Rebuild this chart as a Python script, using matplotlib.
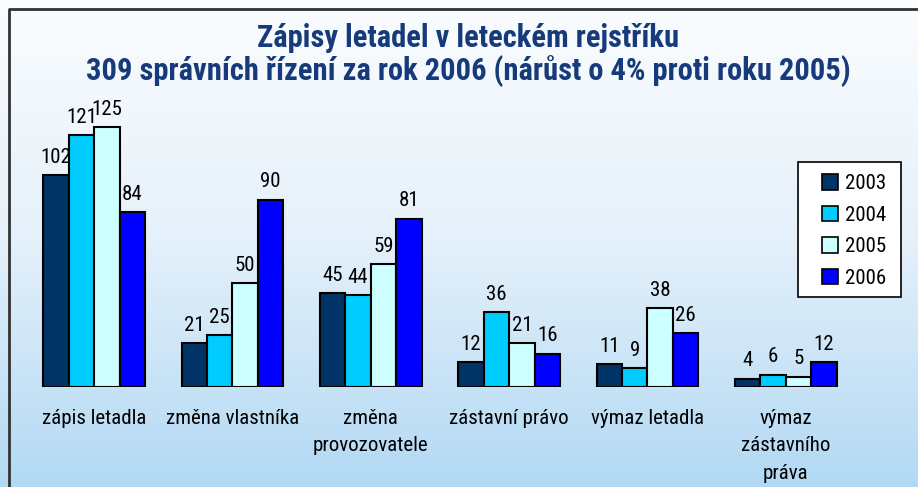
"""Zápisy letadel v leteckém rejstříku - grouped bar chart."""
import matplotlib
matplotlib.use('Agg')
import matplotlib.pyplot as plt
from matplotlib.patches import Patch, Rectangle
from matplotlib.lines import Line2D
from matplotlib.colors import LinearSegmentedColormap
import numpy as np

plt.rcParams['font.family'] = ['Roboto Condensed', 'DejaVu Sans']

# Data
categories = ['zápis letadla', 'změna vlastníka', 'změna\nprovozovatele',
              'zástavní právo', 'výmaz letadla', 'výmaz\nzástavního\npráva']
years = ['2003', '2004', '2005', '2006']
values = {
    '2003': [102, 21, 45, 12, 11, 4],
    '2004': [121, 25, 44, 36, 9, 6],
    '2005': [125, 50, 59, 21, 38, 5],
    '2006': [84, 90, 81, 16, 26, 12],
}
colors = ['#003366', '#00ccff', '#ccffff', '#0000ff']
title_lines = ['Zápisy letadel v leteckém rejstříku',
               '309 správních řízení za rok 2006 (nárůst o 4% proti roku 2005)']

W, H = 918, 487
fig = plt.figure(figsize=(W / 100, H / 100), dpi=100)

# Background gradient
bg = fig.add_axes([0, 0, 1, 1], zorder=-10)
cmap = LinearSegmentedColormap.from_list('bg', ['#fbfdff', '#e4f0fa', '#b2d9f4'])
grad = np.linspace(0, 1, 256).reshape(-1, 1)
bg.imshow(grad, aspect='auto', cmap=cmap, extent=[0, 1, 0, 1], origin='upper')
bg.set_xlim(0, 1)
bg.set_ylim(0, 1)
bg.axis('off')

# Frame (top and left edges visible)
fig.add_artist(Line2D([9 / W, 9 / W, 1], [0, 1 - 9 / H, 1 - 9 / H],
                      transform=fig.transFigure, color='#333333', lw=2))

# Main axes: baseline at y=387 px, 2.08 px per unit
left_px, right_px, base_px, top_px = 25, 855, 387, 100
ax = fig.add_axes([left_px / W, (H - base_px) / H,
                   (right_px - left_px) / W, (base_px - top_px) / H])
ax.patch.set_alpha(0)
ymax = (base_px - top_px) / 2.08
ax.set_ylim(0, ymax)
ax.set_xlim(-0.5, len(categories) - 0.5)

x = np.arange(len(categories))
bw = 0.184
for i, (yr, col) in enumerate(zip(years, colors)):
    pos = x + (i - 1.5) * bw
    bars = ax.bar(pos, values[yr], width=bw, color=col, edgecolor='black',
                  linewidth=1.5, zorder=3)
    for b, v in zip(bars, values[yr]):
        ax.annotate(str(v), (b.get_x() + b.get_width() / 2, v),
                    xytext=(0, 6), textcoords='offset points',
                    ha='center', va='bottom', fontsize=15, color='black')

ax.set_xticks(x)
ax.set_xticklabels(categories, fontsize=15, linespacing=1.55)
ax.tick_params(axis='x', length=0, pad=16)
ax.set_yticks([])
for s in ax.spines.values():
    s.set_visible(False)

# Title (two lines placed separately)
for line, ypx in zip(title_lines, [38, 72]):
    fig.text(468 / W, 1 - ypx / H, line, ha='center', va='center',
             fontsize=22, fontweight='bold', color='#163a7a')

# Legend: white box drawn by hand, entries inside
fig.add_artist(Rectangle((798 / W, 1 - 297 / H), 103 / W, 135 / H,
                         transform=fig.transFigure, facecolor='white',
                         edgecolor='black', linewidth=1.2, zorder=5))
handles = [Patch(facecolor=c, edgecolor='black', linewidth=1.2, label=y)
           for c, y in zip(colors, years)]
leg = fig.legend(handles=handles, loc='upper left',
                 bbox_to_anchor=(818 / W, 1 - 170 / H), fontsize=15,
                 frameon=False, handlelength=0.75, handleheight=0.75,
                 handletextpad=0.35, labelspacing=0.6, borderpad=0.2,
                 borderaxespad=0)
leg.set_zorder(6)

plt.savefig('out.png', dpi=100)
